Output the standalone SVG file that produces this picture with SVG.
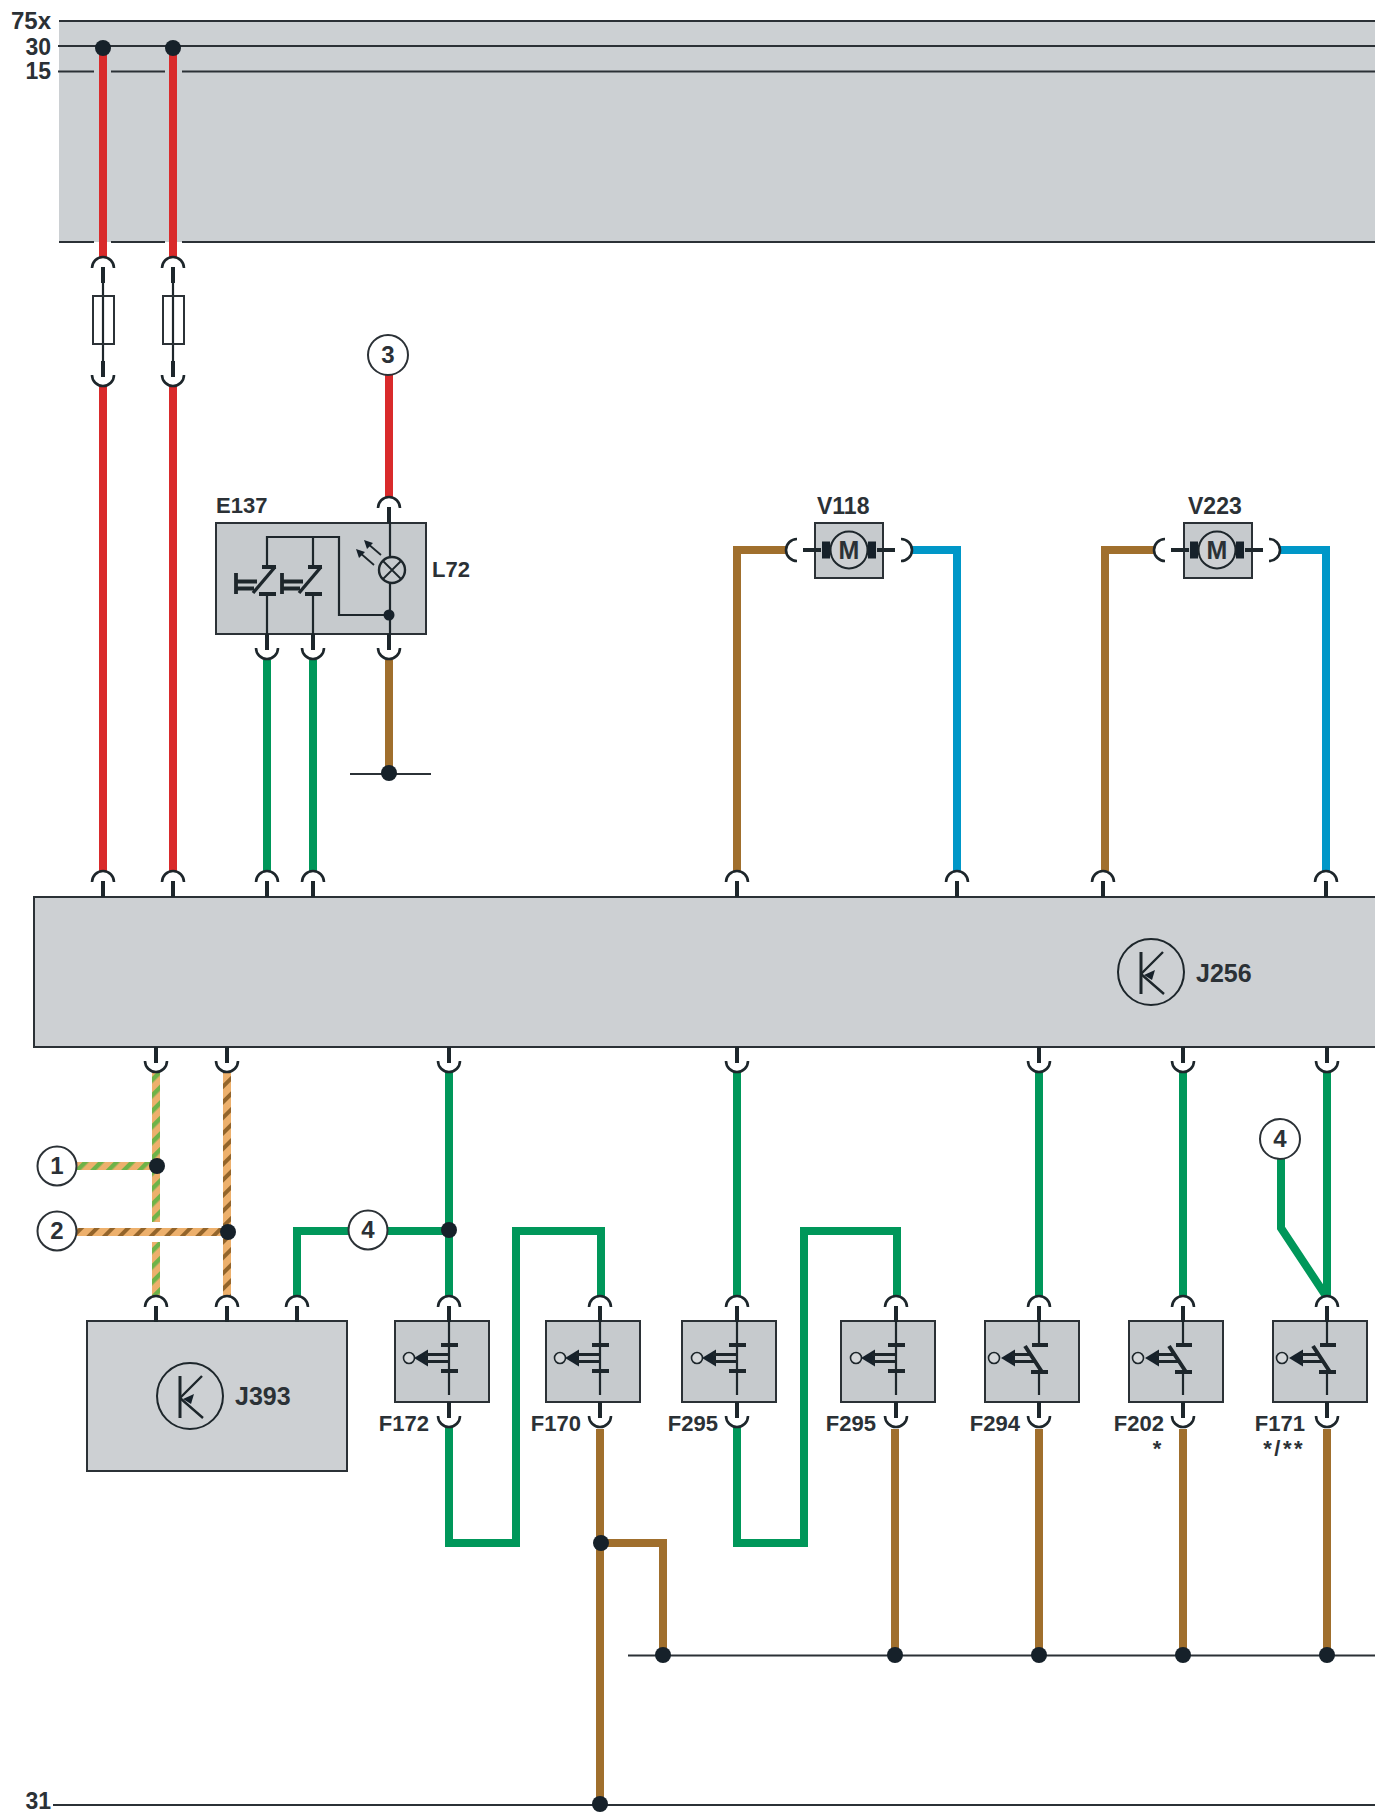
<svg xmlns="http://www.w3.org/2000/svg" xmlns:xlink="http://www.w3.org/1999/xlink" width="1375" height="1812" viewBox="0 0 1375 1812">
<style>
text{font-family:"Liberation Sans",Arial,sans-serif;font-weight:700;font-size:22px;fill:#2b3136}
.n{text-anchor:middle}
.e{text-anchor:end}
.box{fill:#c6cacd;stroke:#2b3136;stroke-width:2}
.big{fill:#cdd0d3;stroke:#2b3136;stroke-width:2}
.th{fill:none;stroke:#1d262b;stroke-width:2.2}
.bar{fill:none;stroke:#1d262b;stroke-width:4}
.cap{fill:none;stroke:#1d262b;stroke-width:2.6}
.dot{fill:#16212a}
.lab{fill:#fff;stroke:#2b3136;stroke-width:2}
.num{font-size:24px}
.w{fill:none;stroke-width:8;stroke-linejoin:miter}
.red{stroke:#d92a2b}.grn{stroke:#00975a}.brn{stroke:#a06f2d}.blu{stroke:#0097c8}
.ln{fill:none;stroke:#2b3136;stroke-width:2}
</style>
<defs>
<pattern id="sg" width="11" height="11" patternUnits="userSpaceOnUse" patternTransform="rotate(45)"><rect width="11" height="11" fill="#edb06c"/><rect width="4.500" height="11" fill="#6eb348"/></pattern>
<pattern id="sb" width="11" height="11" patternUnits="userSpaceOnUse" patternTransform="rotate(45)"><rect width="11" height="11" fill="#edb06c"/><rect width="4" height="11" fill="#93642a"/></pattern>
<g id="capT"><path class="cap" d="M-11,11A11,11 0 0 1 11,11"/><path class="bar" d="M0,10V26"/></g>
<g id="capB"><path class="cap" d="M-11,-11A11,11 0 0 0 11,-11"/><path class="bar" d="M0,-25V-9"/></g>
<g id="act1"><circle cx="-40" cy="0" r="5.500" fill="#d5d8da" stroke="#1d262b" stroke-width="1.600"/><path class="dot" d="M-35,0L-21,-8.500V8.500Z"/><path fill="none" stroke="#1d262b" stroke-width="3.200" d="M-24,-3.500H0M-24,3.500H0"/></g>
<g id="swNO"><path class="th" d="M0,-37V37"/><path class="bar" d="M-8,-13H9M-8,13H9"/><use href="#act1"/></g>
<g id="swNC"><path class="th" d="M0,-37V-13M0,13V37"/><path class="bar" d="M-7,-13H9M-8,14H9M-14,-12L3,14"/><circle cx="-45" cy="0" r="5.500" fill="#d5d8da" stroke="#1d262b" stroke-width="1.600"/><path class="dot" d="M-38,0L-24,-8.500V8.500Z"/><path fill="none" stroke="#1d262b" stroke-width="3.200" d="M-27,-3.500H-8M-27,3.500H-5"/></g>
<g id="ctrl"><circle r="33" fill="none" stroke="#1d262b" stroke-width="2"/><path fill="none" stroke="#1d262b" stroke-width="3" d="M-10,-20V22"/><path fill="none" stroke="#1d262b" stroke-width="2.400" d="M-10,2L12,-20M-10,2L13,22"/><path class="dot" d="M-10,2L1,-3L-2,7Z" transform="translate(3,1)"/></g>
<g id="esw"><path class="bar" d="M-5,-13H9M-8,14H9"/><path fill="none" stroke="#1d262b" stroke-width="3.400" d="M8,-13L-14,13"/><path fill="none" stroke="#1d262b" stroke-width="3.800" d="M-31,-7V14M-31,1.500H-10M-31,8.500H-13"/></g>
<g id="motor"><path class="bar" d="M-46,0H-28M28,0H46"/><rect x="-27" y="-8.500" width="8" height="17" class="dot"/><rect x="19" y="-8.500" width="8" height="17" class="dot"/><circle r="18.500" fill="#cdd0d3" stroke="#1d262b" stroke-width="2"/><path class="cap" d="M-52,-11A11,11 0 0 0 -52,11M52,-11A11,11 0 0 1 52,11"/></g>
</defs>
<rect width="1375" height="1812" fill="#fff"/>

<g id="bus">
<rect x="59" y="21" width="1316" height="221" fill="#ccd0d3"/>
<path class="ln" d="M59,21H1375M58,46H1375M58,71.500H94M111,71.500H165M182,71.500H1375M59,242H94M111,242H165M182,242H1375"/>
<text class="e" x="51" y="29" style="font-size:24px">75x</text>
<text class="e" x="51" y="55" style="font-size:23px">30</text>
<text class="e" x="51" y="79" style="font-size:23px">15</text>
<text class="e" x="51" y="1809" style="font-size:23px">31</text>
<path class="ln" d="M53,1805H1375"/>
<path class="ln" d="M628,1655.500H1375"/>
<path class="ln" d="M350,774H431"/>
</g>

<g id="connectors">
<path class="w red" d="M103,46V258M173,46V258M103,385V871M173,385V871M389,375V497"/>
<path class="w grn" d="M267,660V871M313,660V871M449,1071V1297M737,1071V1297M1039,1071V1297M1183,1071V1297M1327,1071V1297"/>
<path class="w grn" d="M297,1297V1231H449"/>
<path class="w grn" d="M1281,1158V1228L1326,1296"/>
<path class="w grn" d="M449,1427V1543H516V1231H601V1297"/>
<path class="w grn" d="M737,1427V1543H804V1231H897V1297"/>
<path class="w brn" d="M389,660V774M600,1429V1805M601,1543H663V1655M895,1429V1655M1039,1429V1655M1183,1429V1655M1327,1429V1655"/>
<path class="w brn" d="M787,550H737V871M1155,550H1105V871"/>
<path class="w blu" d="M912,550H957V871M1280,550H1326V871"/>
<rect x="76" y="1162" width="80" height="8" fill="url(#sg)"/>
<rect x="152" y="1071" width="8" height="151" fill="url(#sg)"/>
<rect x="152" y="1242" width="8" height="55" fill="url(#sg)"/>
<rect x="76" y="1228" width="152" height="8" fill="url(#sb)"/>
<rect x="223" y="1071" width="8" height="226" fill="url(#sb)"/>
<circle class="dot" cx="103" cy="48" r="8"/><circle class="dot" cx="173" cy="48" r="8"/>
<circle class="dot" cx="389" cy="773" r="8"/>
<circle class="dot" cx="157" cy="1166" r="8"/><circle class="dot" cx="228" cy="1232" r="8"/>
<circle class="dot" cx="449" cy="1230" r="8"/><circle class="dot" cx="601" cy="1543" r="8"/>
<circle class="dot" cx="663" cy="1655" r="8"/><circle class="dot" cx="895" cy="1655" r="8"/><circle class="dot" cx="1039" cy="1655" r="8"/><circle class="dot" cx="1183" cy="1655" r="8"/><circle class="dot" cx="1327" cy="1655" r="8"/>
<circle class="dot" cx="600" cy="1804" r="8"/>
</g>

<g id="fuse1"><use href="#capT" x="103" y="257"/><use href="#capB" x="103" y="386"/><path class="th" d="M103,280V365"/><rect x="93" y="296" width="21" height="48" fill="none" stroke="#2b3136" stroke-width="2"/></g>
<g id="fuse2"><use href="#capT" x="173" y="257"/><use href="#capB" x="173" y="386"/><path class="th" d="M173,280V365"/><rect x="163" y="296" width="21" height="48" fill="none" stroke="#2b3136" stroke-width="2"/></g>

<g id="J256"><rect class="big" x="34" y="897" width="1345" height="150"/>
<use href="#capT" x="103" y="871"/><use href="#capT" x="173" y="871"/><use href="#capT" x="267" y="871"/><use href="#capT" x="313" y="871"/><use href="#capT" x="737" y="871"/><use href="#capT" x="957" y="871"/><use href="#capT" x="1103" y="871"/><use href="#capT" x="1326" y="871"/>
<use href="#capB" x="156" y="1072"/><use href="#capB" x="227" y="1072"/><use href="#capB" x="449" y="1072"/><use href="#capB" x="737" y="1072"/><use href="#capB" x="1039" y="1072"/><use href="#capB" x="1183" y="1072"/><use href="#capB" x="1327" y="1072"/>
<use href="#ctrl" x="1151" y="972"/><text x="1196" y="982" style="font-size:25px">J256</text></g>

<g id="E137"><rect class="box" x="216" y="523" width="210" height="111"/>
<use href="#capT" x="389" y="497"/><use href="#capB" x="267" y="659"/><use href="#capB" x="313" y="659"/><use href="#capB" x="389" y="659"/>
<path class="th" d="M267,566V537H339V615H389M313,537V566M267,594V637M313,594V637M390,523V557M390,583V634"/>
<use href="#esw" x="267" y="580"/><use href="#esw" x="313" y="580"/>
<circle cx="392" cy="570" r="13" fill="none" stroke="#1d262b" stroke-width="2.400"/><path fill="none" stroke="#1d262b" stroke-width="1.800" d="M383,561L401,579M383,579L401,561"/>
<path fill="none" stroke="#1d262b" stroke-width="1.800" d="M381,555L367,543M374,565L359,552"/><path class="dot" d="M364,540L373,543L367,549ZM356,549L365,552L359,558Z"/>
<circle class="dot" cx="389" cy="615" r="5.500"/>
<text x="216" y="513">E137</text><text x="432" y="577">L72</text></g>

<g id="V118"><rect class="box" x="815" y="523" width="68" height="55"/><use href="#motor" x="849" y="550"/><text class="n" x="849" y="559" style="font-size:25px">M</text><text x="817" y="514" style="font-size:23px">V118</text></g>
<g id="V223"><rect class="box" x="1184" y="523" width="68" height="55"/><use href="#motor" x="1217" y="550"/><text class="n" x="1217" y="559" style="font-size:25px">M</text><text x="1188" y="514" style="font-size:23px">V223</text></g>

<g id="J393"><rect class="big" x="87" y="1321" width="260" height="150"/><use href="#capT" x="156" y="1296"/><use href="#capT" x="227" y="1296"/><use href="#capT" x="297" y="1296"/><use href="#ctrl" x="190" y="1396"/><text x="235" y="1405" style="font-size:25px">J393</text></g>

<g id="F172"><rect class="box" x="395" y="1321" width="94" height="81"/><use href="#capT" x="449" y="1296"/><use href="#capB" x="449" y="1427"/><use href="#swNO" x="449" y="1358"/><text class="e" x="429" y="1431">F172</text></g>
<g id="F170"><rect class="box" x="546" y="1321" width="94" height="81"/><use href="#capT" x="600" y="1296"/><use href="#capB" x="600" y="1427"/><use href="#swNO" x="600" y="1358"/><text class="e" x="581" y="1431">F170</text></g>
<g id="F295a"><rect class="box" x="682" y="1321" width="94" height="81"/><use href="#capT" x="737" y="1296"/><use href="#capB" x="737" y="1427"/><use href="#swNO" x="737" y="1358"/><text class="e" x="718" y="1431">F295</text></g>
<g id="F295b"><rect class="box" x="841" y="1321" width="94" height="81"/><use href="#capT" x="896" y="1296"/><use href="#capB" x="896" y="1427"/><use href="#swNO" x="896" y="1358"/><text class="e" x="876" y="1431">F295</text></g>
<g id="F294"><rect class="box" x="985" y="1321" width="94" height="81"/><use href="#capT" x="1039" y="1296"/><use href="#capB" x="1039" y="1427"/><use href="#swNC" x="1039" y="1358"/><text class="e" x="1020" y="1431">F294</text></g>
<g id="F202"><rect class="box" x="1129" y="1321" width="94" height="81"/><use href="#capT" x="1183" y="1296"/><use href="#capB" x="1183" y="1427"/><use href="#swNC" x="1183" y="1358"/><text class="e" x="1164" y="1431">F202</text><text class="n" x="1157" y="1456">*</text></g>
<g id="F171"><rect class="box" x="1273" y="1321" width="94" height="81"/><use href="#capT" x="1327" y="1296"/><use href="#capB" x="1327" y="1427"/><use href="#swNC" x="1327" y="1358"/><text class="e" x="1305" y="1431">F171</text><text class="e" x="1305" y="1456" letter-spacing="2.500">*/**</text></g>

<g id="ref3"><circle class="lab" cx="388" cy="355" r="20"/><text class="n num" x="388" y="363">3</text></g>
<g id="ref1"><circle class="lab" cx="57" cy="1166" r="19.500"/><text class="n num" x="57" y="1174">1</text></g>
<g id="ref2"><circle class="lab" cx="57" cy="1231" r="19.500"/><text class="n num" x="57" y="1239">2</text></g>
<g id="ref4a"><circle class="lab" cx="368" cy="1230" r="19.500"/><text class="n num" x="368" y="1238">4</text></g>
<g id="ref4b"><circle class="lab" cx="1280" cy="1139" r="20"/><text class="n num" x="1280" y="1147">4</text></g>
</svg>
